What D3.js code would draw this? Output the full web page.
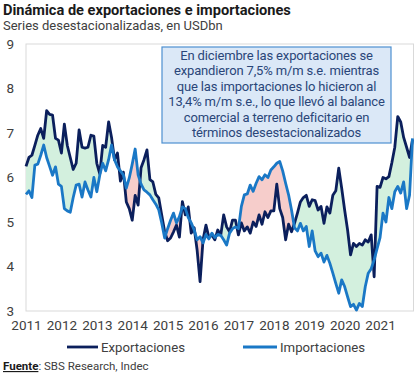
<!DOCTYPE html>
<html><head><meta charset="utf-8">
<script src="https://cdn.jsdelivr.net/npm/d3@7/dist/d3.min.js"></script>
<style>
html,body{margin:0;padding:0;background:#fff;}
svg{display:block;font-family:Roboto,"Noto Sans",sans-serif;}
</style></head>
<body>
<svg id="c" width="420" height="378"></svg>
<script>
// Monthly series, Jan 2011 .. Dec 2021 (USD bn, seasonally adjusted)
const startYear = 2011;
const yearLabels = ["2011","2012","2013","2014","2015","2016","2017","2018","2019","2020","2021"];
const yTicks = [3,4,5,6,7,8,9];
const exportaciones = [
  6.25,6.45,6.50,6.72,6.95,7.10,6.88,7.50,7.42,7.40,6.88,6.84,
  6.55,7.20,6.72,6.45,6.18,6.32,7.07,6.68,6.66,6.68,6.95,6.93,
  6.32,6.08,6.72,6.68,7.25,6.90,6.40,6.55,5.92,6.12,5.45,5.30,
  5.04,5.60,5.38,6.22,6.40,6.62,5.95,5.90,5.62,5.54,5.16,4.78,
  4.58,4.64,4.78,4.93,4.66,5.46,5.16,5.34,4.75,4.87,4.37,3.66,
  4.60,4.93,4.65,4.71,4.60,4.82,4.70,5.16,4.89,4.78,5.04,5.04,
  4.71,4.98,4.80,4.89,4.75,5.00,4.90,5.16,4.95,5.23,5.10,5.25,
  5.25,5.85,5.30,5.10,4.60,4.95,4.78,4.97,5.20,5.45,5.55,5.60,
  5.35,5.50,5.48,5.27,5.35,4.97,5.34,5.20,5.60,5.70,6.21,5.76,
  5.27,4.82,4.26,4.52,4.45,4.52,4.48,4.60,4.55,4.71,3.77,5.80,
  5.78,6.00,5.97,6.02,6.33,6.68,7.37,7.25,6.90,6.68,6.45,6.85
];
const importaciones = [
  5.62,5.70,5.55,6.28,6.30,6.50,6.73,6.45,6.25,6.05,6.24,5.85,
  5.80,5.30,5.25,5.22,5.55,5.83,5.85,5.56,5.90,5.72,5.56,6.00,
  5.68,6.05,6.32,6.15,6.40,6.73,6.40,6.24,6.15,6.06,5.76,5.99,
  6.30,6.64,6.06,5.85,5.72,5.67,5.61,5.50,5.40,5.27,4.98,4.64,
  4.85,5.04,5.20,4.98,5.12,5.34,5.30,5.10,4.98,4.82,4.60,4.67,
  4.53,4.72,4.62,4.75,4.65,4.72,4.70,4.60,4.48,4.75,4.85,4.89,
  4.85,5.35,5.61,5.63,5.83,5.69,5.87,6.02,5.95,6.06,6.00,6.17,
  6.24,6.32,6.36,6.15,5.87,5.61,5.27,4.87,4.80,4.97,4.80,4.90,
  4.45,4.80,4.35,4.22,4.30,4.10,4.25,4.07,3.85,3.62,3.40,3.70,
  3.55,3.32,3.10,3.15,3.02,3.17,3.10,3.55,3.85,3.95,4.15,4.40,
  4.65,5.20,5.00,5.55,5.30,5.68,5.80,5.65,5.90,5.30,5.60,6.88
];
const seriesNames = ["Exportaciones","Importaciones"];
const noteLines = [
  "En diciembre las exportaciones se",
  "expandieron 7,5% m/m s.e. mientras",
  "que las importaciones lo hicieron al",
  "13,4% m/m s.e., lo que llevó al balance",
  "comercial a terreno deficitario en",
  "términos desestacionalizados"
];

const colExp = "#0b1f5c", colImp = "#1a78c6";
const colGreen = "#d3f0de", colPink = "#f6cdcb";
const txt = "#404040";

const svg = d3.select("#c");
const L = 26, R = 413.5, T = 44, B = 311;
const n = exportaciones.length;
const x = d3.scaleLinear().domain([0, 131]).range([L, 412.5]);
const y = d3.scaleLinear().domain([3, 9]).range([B, T]);
const data = d3.range(n).map(i => ({i, e: exportaciones[i], m: importaciones[i]}));

// titles
svg.append("text").attr("x", 3).attr("y", 15).attr("font-size", 14.6).attr("font-weight", 700)
  .attr("fill", "#1a1a1a").text("Dinámica de exportaciones e importaciones");
svg.append("text").attr("x", 3).attr("y", 30).attr("font-size", 13).attr("fill", txt)
  .text("Series desestacionalizadas, en USDbn");

// plot frame
svg.append("rect").attr("x", L).attr("y", T).attr("width", R - L).attr("height", B - T)
  .attr("fill", "none").attr("stroke", "#d9d9d9").attr("stroke-width", 1);

// difference areas
const defs = svg.append("defs");
defs.append("clipPath").attr("id", "aboveImp").append("path")
  .attr("d", d3.area().x(d => x(d.i)).y0(d => y(d.m)).y1(0)(data));
defs.append("clipPath").attr("id", "aboveExp").append("path")
  .attr("d", d3.area().x(d => x(d.i)).y0(d => y(d.e)).y1(0)(data));
svg.append("path").attr("clip-path", "url(#aboveImp)").attr("fill", colGreen)
  .attr("d", d3.area().x(d => x(d.i)).y0(d => y(d.e)).y1(B)(data));
svg.append("path").attr("clip-path", "url(#aboveExp)").attr("fill", colPink)
  .attr("d", d3.area().x(d => x(d.i)).y0(d => y(d.m)).y1(B)(data));

// lines
svg.append("path").attr("fill", "none").attr("stroke", colExp).attr("stroke-width", 2.8)
  .attr("stroke-linejoin", "round").attr("d", d3.line().x(d => x(d.i)).y(d => y(d.e))(data));
svg.append("path").attr("fill", "none").attr("stroke", colImp).attr("stroke-width", 2.8)
  .attr("stroke-linejoin", "round").attr("d", d3.line().x(d => x(d.i)).y(d => y(d.m))(data));

// axes
const ya = svg.append("g").attr("transform", `translate(${L},0)`)
  .call(d3.axisLeft(y).tickValues(yTicks).tickSize(0).tickPadding(12).tickFormat(d3.format("d")));
ya.select(".domain").remove();
ya.selectAll("text").attr("font-size", 13.5).attr("fill", txt).attr("font-family", "Roboto");
const xa = svg.append("g").attr("transform", `translate(0,${B})`)
  .call(d3.axisBottom(x).tickValues(yearLabels.map((_, k) => k * 12)).tickSize(0).tickPadding(9)
    .tickFormat((d) => yearLabels[d / 12]));
xa.select(".domain").remove();
xa.selectAll("text").attr("font-size", 13.5).attr("fill", txt).attr("font-family", "Roboto");

// annotation box
const bx = 162, by = 47, bw = 229, bh = 96;
svg.append("rect").attr("x", bx).attr("y", by).attr("width", bw).attr("height", bh)
  .attr("fill", "#dbe8f7").attr("stroke", "#4d8fd0").attr("stroke-width", 1.2);
svg.append("g").selectAll("text").data(noteLines).join("text")
  .attr("x", bx + bw / 2).attr("y", (d, k) => 60 + k * 15.4)
  .attr("text-anchor", "middle").attr("font-size", 13).attr("letter-spacing", -0.15)
  .attr("fill", "#2a4679").text(d => d);

// legend
const leg = [{x0: 67, x1: 98, c: colExp, t: seriesNames[0]}, {x0: 243, x1: 277, c: colImp, t: seriesNames[1]}];
const lg = svg.append("g");
leg.forEach(d => {
  lg.append("line").attr("x1", d.x0).attr("x2", d.x1).attr("y1", 347).attr("y2", 347)
    .attr("stroke", d.c).attr("stroke-width", 2.8);
  lg.append("text").attr("x", d.x1 + 3).attr("y", 352).attr("font-size", 13.2).attr("fill", txt).text(d.t);
});

// source
const src = svg.append("text").attr("x", 3).attr("y", 370).attr("font-size", 11.5).attr("fill", txt);
src.append("tspan").attr("font-weight", 700).attr("fill", "#1a1a1a").attr("text-decoration", "underline").text("Fuente");
src.append("tspan").text(": SBS Research, Indec");
</script>
</body></html>
